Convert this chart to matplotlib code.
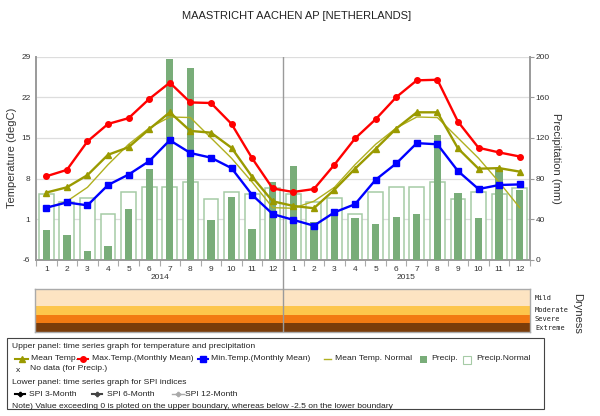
import numpy as np
import matplotlib
matplotlib.use("Agg")
import matplotlib.pyplot as plt
from matplotlib.lines import Line2D
from matplotlib.patches import Rectangle

plt.rcParams['font.family'] = ['Liberation Sans', 'DejaVu Sans']
plt.rcParams['axes.unicode_minus'] = False

# monthly data, Jan 2014 .. Dec 2015
months = list(range(1, 13)) * 2
years = ["2014", "2015"]
max_t = [8.4, 9.5, 14.4, 17.4, 18.4, 21.7, 24.5, 21.1, 21.0, 17.4, 11.5, 6.3,
         5.7, 6.2, 10.4, 14.9, 18.2, 22.0, 24.9, 25.0, 17.8, 13.3, 12.5, 11.8]
mean_t = [5.6, 6.5, 8.6, 12.1, 13.4, 16.5, 19.4, 16.2, 15.9, 13.3, 8.3, 4.1,
          3.3, 2.9, 6.1, 9.7, 13.1, 16.6, 19.4, 19.4, 13.2, 9.7, 9.8, 9.2]
min_t = [3.0, 3.9, 3.4, 6.9, 8.7, 11.0, 14.6, 12.4, 11.6, 9.8, 5.2, 1.9,
         0.9, -0.1, 2.2, 3.6, 7.8, 10.6, 14.1, 13.9, 9.3, 6.2, 6.9, 7.0]
normal_t = [2.9, 4.1, 6.5, 10.4, 13.9, 16.7, 18.6, 18.5, 15.0, 11.5, 7.4, 3.0] * 2
precip = [29, 24.7, 9.2, 13.8, 50, 89.8, 198, 189, 39.5, 61.8, 30.3, 76.3,
          92.5, 37.6, 49.7, 40.8, 35, 42.5, 45.1, 122.9, 65.7, 41.5, 90, 68.6]
precip_normal = [64.8, 56.6, 60.9, 45.4, 66.8, 71.7, 71.7, 76.3, 60.2, 67.1, 65.1, 70.7] * 2

temp_ticks = [-6, 1, 8, 15, 22, 29]
precip_ticks = [0, 40, 80, 120, 160, 200]
dry_classes = ["Extreme", "Severe", "Moderate", "Mild"]
dry_colors = ["#7a3c0a", "#f27a12", "#fdc64c", "#fde4c2"]
dry_bounds = [0, 0.2, 0.4, 0.6, 1.0]

W, H = 600, 416
fig = plt.figure(figsize=(6, 4.16), dpi=100)

x = np.arange(1, 25)
gray = "#9a9a9a"

# precipitation axis (below), temperature axis (on top)
ax2 = fig.add_axes([36 / W, 1 - 260 / H, 494 / W, 203.5 / H])
ax = ax2.twinx()
ax.set_zorder(ax2.get_zorder() + 1)
ax.patch.set_visible(False)

ax2.bar(x, precip_normal, width=0.72, facecolor="white", edgecolor="#a6cba6", linewidth=1.1, zorder=2)
ax2.bar(x, precip, width=0.36, color="#79ad79", zorder=3)
ax2.set_ylim(0, 200)
ax2.set_xlim(0.5, 24.5)
ax2.set_yticks(precip_ticks)
ax2.yaxis.tick_right()
ax2.yaxis.set_label_position("right")
ax2.grid(axis="y", color="#dddddd", linewidth=0.9)
ax2.set_axisbelow(True)
ax2.tick_params(axis="y", labelsize=6, length=3, color=gray, pad=1, labelcolor="#333333")
ax2.set_ylabel("Precipitation (mm)", rotation=270, fontsize=8, labelpad=8, color="#333333")

ax2.set_xticks(x)
ax2.set_xticklabels(months)
ax2.set_xticks(np.arange(0.5, 25, 1), minor=True)
ax2.tick_params(axis="x", which="major", length=0, labelsize=6, pad=4, labelcolor="#333333")
ax2.tick_params(axis="x", which="minor", length=4, color="#aaaaaa", width=0.8)
for i, yr in enumerate(years):
    ax2.text(6.5 + 12 * i, -17, yr, ha="center", va="center", fontsize=6,
             color="#333333", clip_on=False)

for side in ["left", "right", "bottom"]:
    ax2.spines[side].set_color(gray)
    ax2.spines[side].set_linewidth(1.4)
ax2.spines["top"].set_visible(False)
ax2.axvline(12.5, color=gray, linewidth=1, zorder=1)

# temperature lines
ax.plot(x, normal_t, color="#b0b020", linewidth=1.0, zorder=3)
ax.plot(x, mean_t, color="#9a9a00", linewidth=1.7, marker="^", markersize=5, zorder=4)
ax.plot(x, max_t, color="#ff0000", linewidth=1.7, marker="o", markersize=4, zorder=5)
ax.plot(x, min_t, color="#0000ff", linewidth=1.7, marker="s", markersize=4, zorder=5)
ax.set_ylim(-6, 29)
ax.set_yticks(temp_ticks)
ax.yaxis.tick_left()
ax.yaxis.set_label_position("left")
ax.tick_params(axis="y", labelsize=6, length=0, pad=4, labelcolor="#333333")
ax.set_ylabel("Temperature (degC)", fontsize=8, labelpad=3, color="#333333")
for s in ax.spines.values():
    s.set_visible(False)

fig.text(297 / W, 1 - 16 / H, "MAASTRICHT AACHEN AP [NETHERLANDS]", ha="center", va="center",
         fontsize=8, color="#222222")

# connecting year separator between panels
fig.add_artist(Line2D([283 / W, 283 / W], [1 - 260 / H, 1 - 289 / H], color=gray, linewidth=1))

# dryness panel
axd = fig.add_axes([35 / W, 1 - 332 / H, 495 / W, 43 / H])
for i, c in enumerate(dry_colors):
    axd.axhspan(dry_bounds[i], dry_bounds[i + 1], color=c, linewidth=0)
axd.axvline(12.5, color=gray, linewidth=1)
axd.set_xlim(0.5, 24.5)
axd.set_ylim(0, 1)
axd.set_xticks([])
axd.set_yticks([])
for s in axd.spines.values():
    s.set_color("#aaaaaa")
    s.set_linewidth(1)
label_y = [0.1, 0.3, 0.5, 0.8]
for name, yy in zip(dry_classes, label_y):
    axd.text(1.01, yy, name, transform=axd.transAxes, fontsize=5, va="center",
             family="DejaVu Sans Mono", color="#222222")
fig.text(577 / W, 1 - 313 / H, "Dryness", rotation=270, ha="center", va="center",
         fontsize=8, color="#333333")

# legend box
fig.add_artist(Rectangle((7 / W, 1 - 409 / H), 537 / W, 71 / H, transform=fig.transFigure,
                         facecolor="white", edgecolor="#444444", linewidth=0.8))
fs = 6.1


def ftext(px, py, s):
    fig.text(px / W, 1 - py / H, s, fontsize=fs, va="center", ha="left", color="#222222")


def fline(x0, x1, py, color, marker=None, lw=1.5, ms=4):
    fig.add_artist(Line2D([x0 / W, x1 / W], [1 - py / H] * 2, color=color, linewidth=lw))
    if marker:
        fig.add_artist(Line2D([(x0 + x1) / 2 / W], [1 - py / H], color=color, marker=marker,
                              markersize=ms, linewidth=0))


ftext(12, 346, "Upper panel: time series graph for temperature and precipitation")
fline(15, 28, 359, "#9a9a00", "^")
ftext(31, 359, "Mean Temp.")
fline(78, 88, 359, "#ff0000", "o")
ftext(92, 359, "Max.Temp.(Monthly Mean)")
fline(198, 208, 359, "#0000ff", "s")
ftext(211, 359, "Min.Temp.(Monthly Mean)")
fline(324, 331, 359, "#b0b020", lw=1)
ftext(335, 359, "Mean Temp. Normal")
fig.add_artist(Rectangle((420 / W, 1 - 363 / H), 7 / W, 7 / H, transform=fig.transFigure,
                         facecolor="#79ad79", edgecolor="none"))
ftext(431, 359, "Precip.")
fig.add_artist(Rectangle((463 / W, 1 - 363.5 / H), 8 / W, 8 / H, transform=fig.transFigure,
                         facecolor="white", edgecolor="#a6cba6", linewidth=0.8))
ftext(476, 359, "Precip.Normal")
ftext(16, 370, "x")
ftext(30, 369, "No data (for Precip.)")
ftext(12, 382, "Lower panel: time series graph for SPI indices")
fline(15, 25, 394, "black", "P", ms=3)
ftext(29, 394, "SPI 3-Month")
fline(92, 102, 394, "#444444", "P", ms=3)
ftext(107, 394, "SPI 6-Month")
fline(172, 184, 394, "#aaaaaa", "P", lw=1, ms=3)
ftext(185, 394, "SPI 12-Month")
ftext(12, 406, "Note) Value exceeding 0 is ploted on the upper boundary, whereas below -2.5 on the lower boundary")

fig.savefig("out.png", dpi=100)
